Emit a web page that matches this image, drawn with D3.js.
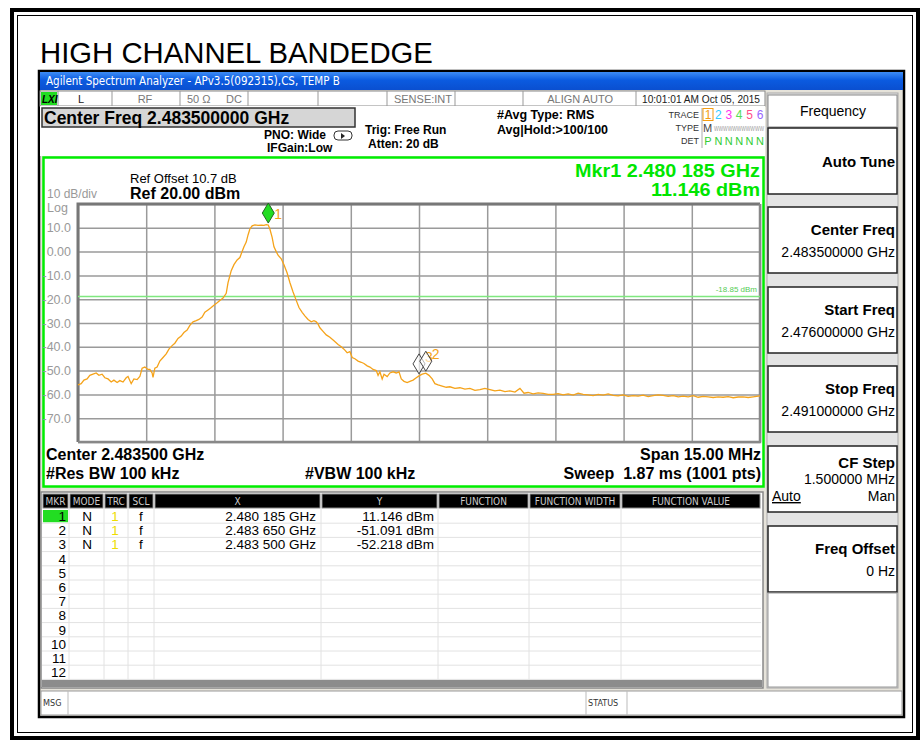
<!DOCTYPE html>
<html>
<head>
<meta charset="utf-8">
<script src="https://cdn.jsdelivr.net/npm/d3@7"></script>
<style>
  body { margin: 0; background: #fff; }
  svg { display: block; font-family: "Liberation Sans", Arial, sans-serif; }
</style>
</head>
<body>
<div id="chart"></div>
<script>
// trace 1 (frequency in MHz, level in dBm)
var traceFreq = [
  2476.00, 2476.07, 2476.13, 2476.20, 2476.26, 2476.33, 2476.40, 2476.46, 2476.53, 2476.59,
  2476.66, 2476.73, 2476.79, 2476.86, 2476.92, 2476.99, 2477.06, 2477.10, 2477.17, 2477.23,
  2477.30, 2477.36, 2477.41, 2477.47, 2477.54, 2477.58, 2477.63, 2477.65, 2477.69, 2477.74,
  2477.80, 2477.87, 2477.94, 2478.00, 2478.07, 2478.13, 2478.20, 2478.27, 2478.33, 2478.40,
  2478.46, 2478.53, 2478.60, 2478.66, 2478.73, 2478.79, 2478.86, 2478.93, 2478.99, 2479.06,
  2479.12, 2479.19, 2479.26, 2479.30, 2479.37, 2479.43, 2479.50, 2479.56, 2479.61, 2479.65,
  2479.70, 2479.74, 2479.78, 2479.83, 2479.89, 2479.96, 2480.03, 2480.09, 2480.14, 2480.185,
  2480.22, 2480.27, 2480.31, 2480.36, 2480.40, 2480.47, 2480.53, 2480.60, 2480.66, 2480.73,
  2480.80, 2480.86, 2480.93, 2480.99, 2481.06, 2481.13, 2481.19, 2481.24, 2481.28, 2481.32,
  2481.39, 2481.46, 2481.54, 2481.63, 2481.72, 2481.79, 2481.85, 2481.92, 2481.98, 2482.03,
  2482.09, 2482.16, 2482.23, 2482.29, 2482.36, 2482.42, 2482.49, 2482.56, 2482.60, 2482.64,
  2482.69, 2482.73, 2482.80, 2482.86, 2482.93, 2483.00, 2483.06, 2483.11, 2483.17, 2483.24,
  2483.30, 2483.37, 2483.44, 2483.50, 2483.57, 2483.65, 2483.72, 2483.79, 2483.85, 2483.92,
  2484.01, 2484.10, 2484.18, 2484.29, 2484.40, 2484.51, 2484.62, 2484.73, 2484.84, 2484.95,
  2485.06, 2485.17, 2485.28, 2485.39, 2485.50, 2485.61, 2485.72, 2485.81, 2485.90, 2486.01,
  2486.12, 2486.23, 2486.34, 2486.45, 2486.56, 2486.67, 2486.78, 2486.89, 2487.00, 2487.11,
  2487.22, 2487.33, 2487.44, 2487.55, 2487.66, 2487.77, 2487.88, 2487.99, 2488.10, 2488.21,
  2488.32, 2488.43, 2488.54, 2488.65, 2488.76, 2488.87, 2488.98, 2489.09, 2489.20, 2489.31,
  2489.42, 2489.53, 2489.64, 2489.75, 2489.86, 2489.97, 2490.08, 2490.19, 2490.30, 2490.41,
  2490.52, 2490.63, 2490.74, 2490.85, 2491.00
];
var traceLevel = [
  -56, -55.5, -54, -53.5, -52, -51.5, -51, -52, -51.5, -53,
  -53.5, -54.8, -54, -55, -54.2, -54.8, -53, -52.5, -55.5, -53.5,
  -53.8, -52.5, -49, -48.5, -49.5, -49.5, -51, -52.8, -49, -48.5,
  -46, -44.5, -43, -41, -39.5, -38.5, -36.5, -35.5, -34, -33,
  -31, -29.5, -29, -28.5, -27.5, -25.5, -24.5, -23.5, -22.5, -21.5,
  -20.5, -19.5, -17.5, -13, -8, -5.5, -3.5, -2.5, 0, 2,
  4, 7, 9.5, 10.8, 11.2, 11, 11.1, 11, 11.3, 11.146,
  9.5, 6, 2, 0, -1.5, -3, -5.5, -9, -13, -17,
  -20.5, -23.5, -25.5, -27, -28.5, -29.5, -29, -29.5, -30.5, -32,
  -33.5, -35, -36, -37.5, -39, -40, -41, -42.5, -42, -44.5,
  -45, -46, -46.5, -47, -48, -48.5, -49.5, -50, -52, -50.5,
  -53.5, -51.5, -52.5, -51, -50.5, -51, -50.5, -53.5, -54.5, -55,
  -54.5, -54, -53, -52.218, -51.5, -51.091, -52, -53.5, -55.5, -56,
  -56.5, -57, -56.8, -57.5, -57.2, -57.8, -57.5, -58.3, -58, -57.5,
  -58, -58.5, -58.2, -58.8, -58.5, -59, -57.5, -59.5, -59.2, -59.8,
  -59.4, -59.6, -60, -60, -59.7, -60.2, -59.8, -60.3, -59.5, -60,
  -60.2, -60.5, -60, -60.3, -59.8, -60.4, -60.6, -60.2, -60.8, -60.5,
  -60.7, -60.3, -60.9, -60.5, -60.2, -60.4, -60.8, -60.5, -61, -60.7,
  -61, -60.5, -61.2, -60.8, -61, -61.3, -61, -61.2, -60.9, -61.4,
  -61.1, -61, -61.3, -61, -60.6
];

// markers
var markerNum = [1, 2, 3];
var markerFreq = [2480.185, 2483.650, 2483.500];
var markerLevel = [11.146, -51.091, -52.218];
var markerX = ["2.480 185 GHz", "2.483 650 GHz", "2.483 500 GHz"];
var markerY = ["11.146 dBm", "-51.091 dBm", "-52.218 dBm"];

// axes
var gridFreqs = d3.range(0, 11).map(function(i) { return 2476 + i * 1.5; });
var gridLevels = d3.range(0, 11).map(function(i) { return 20 - i * 10; });
var yLabelLevels = [10, 0, -10, -20, -30, -40, -50, -60, -70];
var yLabelText = ["10.0", "0.00", "-10.0", "-20.0", "-30.0", "-40.0", "-50.0", "-60.0", "-70.0"];
var displayLine = -18.85;

// softkeys
var keyTitles = ["Auto Tune", "Center Freq", "Start Freq", "Stop Freq", "CF Step", "Freq Offset"];
var keyValues = ["", "2.483500000 GHz", "2.476000000 GHz", "2.491000000 GHz", "1.500000 MHz", "0 Hz"];

var W = 923, H = 742;
var svg = d3.select("#chart").append("svg").attr("width", W).attr("height", H);

// outer page frame
svg.append("rect").attr("x", 12).attr("y", 10).attr("width", 906).attr("height", 728)
  .attr("fill", "#fff").attr("stroke", "#000").attr("stroke-width", 4);
svg.append("rect").attr("x", 17.5).attr("y", 15.5).attr("width", 895).attr("height", 717)
  .attr("fill", "none").attr("stroke", "#000").attr("stroke-width", 1);

svg.append("text").attr("x", 40).attr("y", 63)
  .style("font-size", "29.3px").text("HIGH CHANNEL BANDEDGE");

// analyzer window
svg.append("rect").attr("x", 39).attr("y", 71).attr("width", 865).attr("height", 646)
  .attr("fill", "#e6e3da").attr("stroke", "#000").attr("stroke-width", 2.5);
var grad = svg.append("defs").append("linearGradient").attr("id", "bar")
  .attr("x1", 0).attr("y1", 0).attr("x2", 0).attr("y2", 1);
grad.append("stop").attr("offset", "0%").attr("stop-color", "#3d8cf5");
grad.append("stop").attr("offset", "45%").attr("stop-color", "#0b5be0");
grad.append("stop").attr("offset", "100%").attr("stop-color", "#0a4fd0");
svg.append("rect").attr("x", 40).attr("y", 72).attr("width", 863).attr("height", 18).attr("fill", "url(#bar)");
svg.append("text").attr("x", 46).attr("y", 85)
  .style("font-family", "DejaVu Sans Condensed").style("font-size", "11.5px").attr("fill", "#fff")
  .text("Agilent Spectrum Analyzer - APv3.5(092315),CS, TEMP B");

// status row
svg.append("rect").attr("x", 40).attr("y", 91).attr("width", 725).attr("height", 15)
  .attr("fill", "#fff").attr("stroke", "#888").attr("stroke-width", 1);
[58, 112, 180, 248, 318, 387, 455, 523, 636].forEach(function(sx) {
  svg.append("line").attr("x1", sx).attr("x2", sx).attr("y1", 91).attr("y2", 106).attr("stroke", "#999");
});
svg.append("rect").attr("x", 41).attr("y", 92).attr("width", 16).attr("height", 13).attr("fill", "#22dd22");
svg.append("text").attr("x", 42).attr("y", 103).style("font-size", "10px").style("font-weight", "bold")
  .style("font-style", "italic").text("LXI");
var statusCells = [[78, "L", "start"], [145, "RF", "middle"], [187, "50 Ω", "start"], [226, "DC", "start"],
  [452, "SENSE:INT", "end"], [613, "ALIGN AUTO", "end"]];
statusCells.forEach(function(s) {
  svg.append("text").attr("x", s[0]).attr("y", 103).attr("text-anchor", s[2])
    .style("font-size", "11px").attr("fill", s[1] == "L" ? "#222" : "#777").text(s[1]);
});
svg.append("text").attr("x", 642).attr("y", 103).style("font-size", "11.5px").attr("fill", "#222")
  .attr("textLength", 118).attr("lengthAdjust", "spacingAndGlyphs")
  .text("10:01:01 AM Oct 05, 2015");

// header area
svg.append("rect").attr("x", 40).attr("y", 106).attr("width", 725).attr("height", 50).attr("fill", "#fff");
svg.append("rect").attr("x", 42).attr("y", 108).attr("width", 313).attr("height", 19)
  .attr("fill", "#d6d6d6").attr("stroke", "#333").attr("stroke-width", 1.5);
svg.append("text").attr("x", 44).attr("y", 124).style("font-size", "17.5px").style("font-weight", "bold")
  .text("Center Freq 2.483500000 GHz");
var bold12 = function(x, y, t, anchor) {
  return svg.append("text").attr("x", x).attr("y", y).attr("text-anchor", anchor || "start")
    .style("font-size", "12px").style("font-weight", "bold").text(t);
};
bold12(326, 139, "PNO: Wide", "end");
bold12(267, 152, "IFGain:Low");
bold12(365, 134, "Trig: Free Run");
bold12(368, 148, "Atten: 20 dB");
bold12(497, 119, "#Avg Type: RMS").style("font-size", "12.5px");
bold12(497, 134, "Avg|Hold:>100/100").style("font-size", "12.5px");
svg.append("rect").attr("x", 334).attr("y", 131).attr("width", 18).attr("height", 9).attr("rx", 4)
  .attr("fill", "none").attr("stroke", "#333");
svg.append("path").attr("d", "M341,133 L345,136 L341,139 Z").attr("fill", "#222");

// trace info block
[["TRACE", 118], ["TYPE", 131], ["DET", 144]].forEach(function(r) {
  svg.append("text").attr("x", 699).attr("y", r[1]).attr("text-anchor", "end")
    .style("font-size", "9px").attr("fill", "#333").text(r[0]);
});
svg.append("line").attr("x1", 702).attr("x2", 702).attr("y1", 108).attr("y2", 148).attr("stroke", "#aaa");
var traceColors = ["#f39c12", "#33ccff", "#ff33ee", "#55dd55", "#ff4d88", "#9966ff"];
traceColors.forEach(function(c, i) {
  var tx = 708 + i * 10.4;
  svg.append("text").attr("x", tx).attr("y", 119).attr("text-anchor", "middle")
    .style("font-size", "12px").attr("fill", c).text(i + 1);
  svg.append("text").attr("x", tx).attr("y", 145).attr("text-anchor", "middle")
    .style("font-size", "11px").attr("fill", "#33cc33").text(i == 0 ? "P" : "N");
});
svg.append("rect").attr("x", 703).attr("y", 108.5).attr("width", 10).attr("height", 12)
  .attr("fill", "none").attr("stroke", "#f39c12");
svg.append("text").attr("x", 703).attr("y", 132).style("font-size", "11px").attr("fill", "#444").text("M");
svg.append("text").attr("x", 714).attr("y", 131).style("font-size", "8px").attr("fill", "#999")
  .attr("textLength", 50).attr("lengthAdjust", "spacingAndGlyphs").text("WWWWWWWWWWW");

// plot panel
var panel = {x: 43.5, y: 157.5, w: 720, h: 329};
svg.append("rect").attr("x", panel.x).attr("y", panel.y).attr("width", panel.w).attr("height", panel.h)
  .attr("fill", "#fff").attr("stroke", "#00ee00").attr("stroke-width", 2.5);

var plot = {left: 78, right: 760, top: 204, bottom: 442};
var x = d3.scaleLinear().domain([2476, 2491]).range([plot.left, plot.right]);
var y = d3.scaleLinear().domain([-80, 20]).range([plot.bottom, plot.top]);

svg.append("text").attr("x", 130).attr("y", 183).style("font-size", "13px").text("Ref Offset 10.7 dB");
svg.append("text").attr("x", 130).attr("y", 199).style("font-size", "16px").style("font-weight", "bold")
  .text("Ref 20.00 dBm");
svg.append("text").attr("x", 47).attr("y", 198).style("font-size", "12px").attr("fill", "#999").text("10 dB/div");
svg.append("text").attr("x", 47).attr("y", 212).style("font-size", "12.5px").attr("fill", "#999").text("Log");
svg.append("text").attr("x", 760).attr("y", 176.5).attr("text-anchor", "end").attr("fill", "#00e600")
  .style("font-size", "17.5px").style("font-weight", "bold")
  .attr("textLength", 185).attr("lengthAdjust", "spacingAndGlyphs").text("Mkr1 2.480 185 GHz");
svg.append("text").attr("x", 760).attr("y", 196).attr("text-anchor", "end").attr("fill", "#00e600")
  .style("font-size", "17.5px").style("font-weight", "bold")
  .attr("textLength", 109).attr("lengthAdjust", "spacingAndGlyphs").text("11.146 dBm");

// grid
var gx = svg.append("g").attr("transform", "translate(0," + plot.bottom + ")")
  .call(d3.axisBottom(x).tickValues(gridFreqs).tickSize(-(plot.bottom - plot.top)).tickFormat(""));
var gy = svg.append("g").attr("transform", "translate(" + plot.left + ",0)")
  .call(d3.axisLeft(y).tickValues(gridLevels).tickSize(-(plot.right - plot.left)).tickFormat(""));
[gx, gy].forEach(function(g) {
  g.select(".domain").remove();
  g.selectAll("line").attr("stroke", "#9a9a9a").attr("stroke-width", 1.5);
});
var yl = svg.append("g").attr("transform", "translate(" + (plot.left - 4) + ",0)")
  .call(d3.axisLeft(y).tickValues(yLabelLevels).tickSize(0)
    .tickFormat(function(d, i) { return yLabelText[i]; }));
yl.select(".domain").remove();
yl.selectAll("text").attr("fill", "#999").style("font-size", "12.5px")
  .style("font-family", "Liberation Sans, Arial, sans-serif");

// frame of graticule
svg.append("path")
  .attr("d", "M" + plot.left + "," + plot.bottom + "V" + plot.top + "H" + plot.right)
  .attr("fill", "none").attr("stroke", "#777").attr("stroke-width", 3);
svg.append("path")
  .attr("d", "M" + plot.right + "," + plot.top + "V" + plot.bottom + "H" + plot.left)
  .attr("fill", "none").attr("stroke", "#888").attr("stroke-width", 2.5);

// display line
svg.append("line").attr("x1", plot.left).attr("x2", plot.right).attr("y1", y(displayLine)).attr("y2", y(displayLine))
  .attr("stroke", "#7fe87f").attr("stroke-width", 1.5);
svg.append("text").attr("x", plot.right - 3).attr("y", y(displayLine) - 4).attr("text-anchor", "end")
  .style("font-size", "8px").attr("fill", "#55cc55").text("-18.85 dBm");

// trace
var line = d3.line()
  .x(function(d) { return x(d[0]); })
  .y(function(d) { return y(d[1]); });
svg.append("path").datum(d3.zip(traceFreq, traceLevel))
  .attr("d", line).attr("fill", "none").attr("stroke", "#f5a31a").attr("stroke-width", 1.3);

// markers (3 first so 2 sits on top, 1 last)
[2, 1, 0].forEach(function(i) {
  var mx = x(markerFreq[i]), my = y(markerLevel[i]) - 12;
  svg.append("path")
    .attr("d", "M" + mx + "," + (my - 10) + "L" + (mx + 6) + "," + my + "L" + mx + "," + (my + 10) +
      "L" + (mx - 6) + "," + my + "Z")
    .attr("fill", i == 0 ? "#22dd22" : "#fff").attr("fill-opacity", i == 0 ? 1 : 0.6)
    .attr("stroke", i == 0 ? "#226622" : "#444").attr("stroke-width", 1);
  svg.append("text").attr("x", mx + 6).attr("y", my + (i == 0 ? 6 : -2)).attr("fill", "#f5a31a")
    .style("font-size", "14px").text(markerNum[i]);
});

// panel bottom annotations
var bold16 = function(x, y, t, anchor) {
  svg.append("text").attr("x", x).attr("y", y).attr("text-anchor", anchor || "start")
    .style("font-size", "16px").style("font-weight", "bold").text(t);
};
bold16(46, 460, "Center 2.483500 GHz");
bold16(46, 479, "#Res BW 100 kHz");
bold16(305, 479, "#VBW 100 kHz");
bold16(761, 460, "Span 15.00 MHz", "end");
bold16(761, 479, "Sweep\u00a0\u00a01.87 ms (1001 pts)", "end");

// marker table
var cols = [42, 69, 104, 128, 154, 321, 438, 529, 621, 761];
var colNames = ["MKR", "MODE", "TRC", "SCL", "X", "Y", "FUNCTION", "FUNCTION WIDTH", "FUNCTION VALUE"];
var rowH = 14.2, tableTop = 509;
svg.append("rect").attr("x", 41).attr("y", 492).attr("width", 722).attr("height", 196)
  .attr("fill", "#fff").attr("stroke", "#888").attr("stroke-width", 1.5);
colNames.forEach(function(n, i) {
  svg.append("rect").attr("x", cols[i] + 1).attr("y", 494).attr("width", cols[i + 1] - cols[i] - 2).attr("height", 14)
    .attr("fill", "#000").attr("stroke", "#888").attr("stroke-width", 1);
  svg.append("text").attr("x", (cols[i] + cols[i + 1]) / 2).attr("y", 505).attr("text-anchor", "middle")
    .style("font-family", "DejaVu Sans Condensed").style("font-size", "10px").attr("fill", "#ccc").text(n);
});
d3.range(1, 13).forEach(function(r) {
  var ty = tableTop + (r - 1) * rowH;
  svg.append("line").attr("x1", 42).attr("x2", 761).attr("y1", ty + rowH).attr("y2", ty + rowH)
    .attr("stroke", "#e2e2e2");
  if (r == 1) {
    svg.append("rect").attr("x", 43).attr("y", ty + 1).attr("width", 25).attr("height", rowH - 2).attr("fill", "#22dd22");
  }
  svg.append("text").attr("x", 66).attr("y", ty + 12).attr("text-anchor", "end")
    .style("font-size", "13.5px").text(r);
});
cols.slice(1, 9).forEach(function(cx) {
  svg.append("line").attr("x1", cx).attr("x2", cx).attr("y1", 508).attr("y2", 680).attr("stroke", "#e2e2e2");
});
markerNum.forEach(function(m, i) {
  var ty = tableTop + i * rowH + 12;
  svg.append("text").attr("x", 87).attr("y", ty).attr("text-anchor", "middle").style("font-size", "13.5px").text("N");
  svg.append("text").attr("x", 115).attr("y", ty).attr("text-anchor", "middle").style("font-size", "13.5px")
    .attr("fill", "#eedd00").text("1");
  svg.append("text").attr("x", 141).attr("y", ty).attr("text-anchor", "middle").style("font-size", "13.5px").text("f");
  svg.append("text").attr("x", 316).attr("y", ty).attr("text-anchor", "end").style("font-size", "13.5px").text(markerX[i]);
  svg.append("text").attr("x", 434).attr("y", ty).attr("text-anchor", "end").style("font-size", "13.5px").text(markerY[i]);
});
svg.append("rect").attr("x", 42).attr("y", 680).attr("width", 720).attr("height", 7).attr("fill", "#8c8c8c");

// message bar
svg.append("rect").attr("x", 41).attr("y", 691).attr("width", 861).attr("height", 24)
  .attr("fill", "#fff").attr("stroke", "#999");
[68, 586, 627].forEach(function(sx) {
  svg.append("line").attr("x1", sx).attr("x2", sx).attr("y1", 691).attr("y2", 715).attr("stroke", "#bbb");
});
svg.append("text").attr("x", 43).attr("y", 706).style("font-family", "DejaVu Sans Condensed")
  .style("font-size", "9px").attr("fill", "#333").text("MSG");
svg.append("text").attr("x", 588).attr("y", 706).style("font-family", "DejaVu Sans Condensed")
  .style("font-size", "9px").attr("fill", "#333").text("STATUS");

// softkey panel
svg.append("rect").attr("x", 767).attr("y", 93).attr("width", 131).attr("height", 595)
  .attr("fill", "#e4e4e4").attr("stroke", "#aaa");
svg.append("rect").attr("x", 768).attr("y", 95).attr("width", 129).attr("height", 32)
  .attr("fill", "#fff").attr("stroke", "#888");
svg.append("text").attr("x", 833).attr("y", 116).attr("text-anchor", "middle").style("font-size", "14px")
  .text("Frequency");
var keyTops = [128, 207, 287, 366, 446, 526];
keyTitles.forEach(function(t, i) {
  var ky = keyTops[i];
  svg.append("rect").attr("x", 768).attr("y", ky).attr("width", 129).attr("height", 66)
    .attr("fill", "#fff").attr("stroke", "#222").attr("stroke-width", 1.5);
  var titleY = i == 0 ? ky + 39 : (i == 4 ? ky + 22 : ky + 28);
  svg.append("text").attr("x", 895).attr("y", titleY).attr("text-anchor", "end")
    .style("font-size", "15px").style("font-weight", "bold").text(t);
  if (keyValues[i]) {
    svg.append("text").attr("x", 895).attr("y", i == 4 ? ky + 38 : ky + 50).attr("text-anchor", "end")
      .style("font-size", "14px").text(keyValues[i]);
  }
});
svg.append("text").attr("x", 772).attr("y", 501).style("font-size", "14px").style("text-decoration", "underline")
  .text("Auto");
svg.append("text").attr("x", 895).attr("y", 501).attr("text-anchor", "end").style("font-size", "14px").text("Man");
svg.append("rect").attr("x", 768).attr("y", 593).attr("width", 129).attr("height", 94)
  .attr("fill", "#fff").attr("stroke", "#999");
</script>
</body>
</html>
